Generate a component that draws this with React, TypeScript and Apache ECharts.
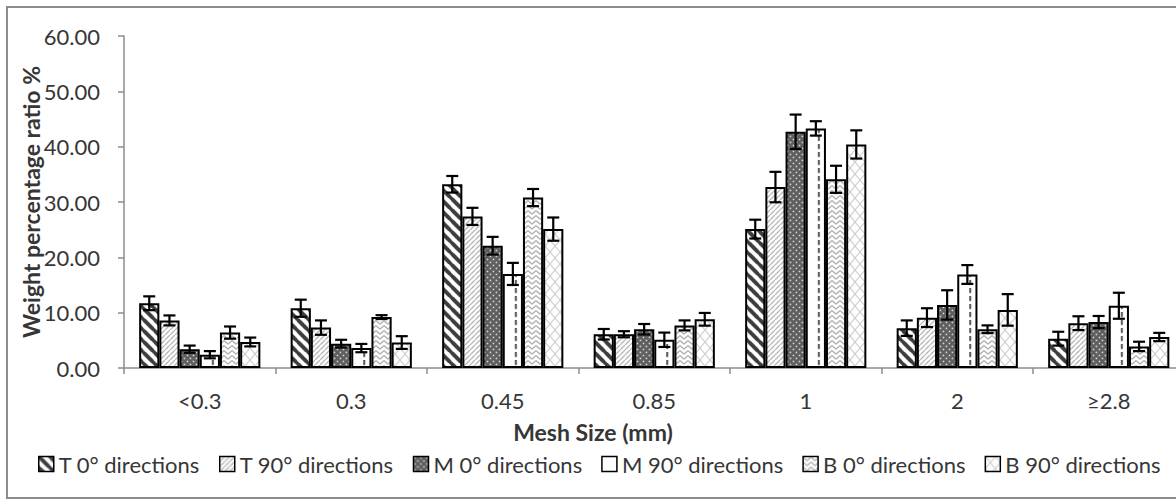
import React, { useEffect, useRef } from "react";
import * as echarts from "echarts";

// ---- data ----
const categories = ["<0.3", "0.3", "0.45", "0.85", "1", "2", "≥2.8"];
const seriesNames = [
  "T 0° directions",
  "T 90° directions",
  "M 0° directions",
  "M 90° directions",
  "B 0° directions",
  "B 90° directions",
];
const t0Values = [11.7, 10.8, 33.2, 6.1, 25.1, 7.2, 5.3];
const t0Errors = [1.25, 1.55, 1.5, 0.95, 1.7, 1.4, 1.25];
const t90Values = [8.6, 7.3, 27.4, 6.1, 32.7, 9.1, 8.1];
const t90Errors = [0.9, 1.3, 1.55, 0.55, 2.75, 1.7, 1.25];
const m0Values = [3.4, 4.4, 22.1, 7.0, 42.7, 11.4, 8.3];
const m0Errors = [0.65, 0.7, 1.6, 0.95, 3.1, 2.65, 1.1];
const m90Values = [2.4, 3.6, 17.0, 5.1, 43.3, 16.9, 11.25];
const m90Errors = [0.65, 0.75, 2.0, 1.3, 1.3, 1.7, 2.35];
const b0Values = [6.4, 9.2, 30.8, 7.7, 34.1, 7.0, 3.9];
const b0Errors = [1.1, 0.35, 1.55, 0.9, 2.45, 0.7, 0.85];
const b90Values = [4.7, 4.6, 25.1, 8.8, 40.4, 10.5, 5.6];
const b90Errors = [0.8, 1.15, 2.1, 1.15, 2.55, 2.85, 0.75];
const yMin = 0;
const yMax = 60;
const yInterval = 10;
const yAxisTitle = "Weight percentage ratio %";
const xAxisTitle = "Mesh Size (mm)";

const allValues = [t0Values, t90Values, m0Values, m90Values, b0Values, b90Values];
const allErrors = [t0Errors, t90Errors, m0Errors, m90Errors, b0Errors, b90Errors];

// ---- layout ----
const CHART_W = 1196;
const CHART_H = 501;
const GRID_LEFT = 124;
const GRID_TOP = 36;
const CAT_W = 151.5;
const GRID_W = CAT_W * categories.length;
const GRID_H = 332;
const FONT = "Lato, 'Open Sans', sans-serif";
const TEXT = "#363636";
const AXIS = "#8c8c8c";

function makeTile(
  w: number,
  h: number,
  bg: string,
  draw: (ctx: CanvasRenderingContext2D) => void
) {
  const s = 3;
  const c = document.createElement("canvas");
  c.width = Math.round(w * s);
  c.height = Math.round(h * s);
  const ctx = c.getContext("2d") as CanvasRenderingContext2D;
  ctx.scale(c.width / w, c.height / h);
  ctx.fillStyle = bg;
  ctx.fillRect(0, 0, w, h);
  draw(ctx);
  return { image: c, repeat: "repeat", imageWidth: w, imageHeight: h };
}

function buildPatterns() {
  // T 0°: wide dark downward diagonal
  const p0 = makeTile(11, 11, "#ffffff", (ctx) => {
    ctx.strokeStyle = "#3c3c3c";
    ctx.lineWidth = 3.8;
    for (const k of [-11, 0, 11]) {
      ctx.beginPath();
      ctx.moveTo(k - 2, -2);
      ctx.lineTo(k + 13, 13);
      ctx.stroke();
    }
  });
  // T 90°: light upward diagonal
  const p1 = makeTile(5, 5, "#ffffff", (ctx) => {
    ctx.strokeStyle = "#ababab";
    ctx.lineWidth = 1.1;
    for (const k of [-5, 0, 5]) {
      ctx.beginPath();
      ctx.moveTo(k - 1, 6);
      ctx.lineTo(k + 6, -1);
      ctx.stroke();
    }
  });
  // M 0°: dark with white dots
  const p2 = makeTile(6, 6, "#5e5e5e", (ctx) => {
    ctx.fillStyle = "#e8e8e8";
    ctx.fillRect(0.7, 0.7, 1.5, 1.5);
    ctx.fillRect(3.7, 3.7, 1.5, 1.5);
  });
  // M 90°: dashed vertical line in each bar
  const m90Center =
    (GRID_LEFT + CAT_W * 0.1 + 3.5 * ((CAT_W * 0.8) / 6) + 3) % CAT_W;
  const p3 = makeTile(CAT_W * 2, 8, "#ffffff", (ctx) => {
    ctx.fillStyle = "#555555";
    ctx.fillRect(m90Center - 1, 0, 2, 5);
    ctx.fillRect(m90Center + CAT_W - 1, 0, 2, 5);
  });
  // B 0°: zigzag
  const p4 = makeTile(8, 5, "#ffffff", (ctx) => {
    ctx.strokeStyle = "#a0a0a0";
    ctx.lineWidth = 1.1;
    for (const k of [-5, 0, 5]) {
      ctx.beginPath();
      ctx.moveTo(-1, k + 0);
      ctx.lineTo(4, k + 4);
      ctx.lineTo(9, k + 0);
      ctx.stroke();
    }
  });
  // B 90°: diamond lattice
  const p5 = makeTile(10, 12, "#ffffff", (ctx) => {
    ctx.strokeStyle = "#c6c6c6";
    ctx.lineWidth = 1;
    ctx.beginPath();
    ctx.moveTo(-1, -1.2);
    ctx.lineTo(11, 13.2);
    ctx.moveTo(11, -1.2);
    ctx.lineTo(-1, 13.2);
    ctx.stroke();
  });
  return [p0, p1, p2, p3, p4, p5];
}

export default function App() {
  const ref = useRef<HTMLDivElement>(null);

  useEffect(() => {
    if (!ref.current) return;
    const chart = echarts.init(ref.current, undefined, { renderer: "svg" });
    const patterns = buildPatterns();
    const nSeries = seriesNames.length;

    const barSeries = seriesNames.map((name, idx) => ({
      type: "bar",
      name,
      data: allValues[idx],
      barGap: "0%",
      barCategoryGap: "20%",
      itemStyle: {
        color: patterns[idx],
        borderColor: "#000000",
        borderWidth: 2,
      },
      emphasis: { disabled: true },
      z: 2,
    }));

    const errSeries = seriesNames.map((name, idx) => ({
      type: "custom",
      name: "err-" + idx,
      z: 5,
      silent: true,
      encode: { x: 0, y: 1 },
      data: allValues[idx].map((v, i) => [i, v, allErrors[idx][i]]),
      renderItem: (params: any, api: any) => {
        const ci = api.value(0);
        const v = api.value(1);
        const e = api.value(2);
        const c = api.coord([ci, v]);
        const band = api.size([1, 0])[0];
        const bw = (band * 0.8) / nSeries;
        const x = c[0] + (idx - (nSeries - 1) / 2) * bw;
        const yTop = api.coord([ci, v + e])[1];
        const yBot = api.coord([ci, v - e])[1];
        const cap = 6;
        const st = { stroke: "#000000", lineWidth: 2.2 };
        return {
          type: "group",
          children: [
            { type: "line", shape: { x1: x, y1: yTop, x2: x, y2: yBot }, style: st },
            { type: "line", shape: { x1: x - cap, y1: yTop, x2: x + cap, y2: yTop }, style: st },
            { type: "line", shape: { x1: x - cap, y1: yBot, x2: x + cap, y2: yBot }, style: st },
          ],
        };
      },
    }));

    const option: any = {
      animation: false,
      backgroundColor: "#ffffff",
      textStyle: { fontFamily: FONT, color: TEXT },
      grid: {
        left: GRID_LEFT,
        top: GRID_TOP,
        width: GRID_W,
        height: GRID_H,
        containLabel: false,
        outerBoundsMode: "none",
      },
      legend: {
        data: seriesNames,
        left: 33,
        top: 448,
        icon: "rect",
        itemWidth: 15,
        itemHeight: 15,
        itemGap: 19,
        selectedMode: false,
        itemStyle: { borderColor: "#000000", borderWidth: 1.5 },
        textStyle: { fontFamily: FONT, fontSize: 22, color: TEXT },
      },
      xAxis: {
        type: "category",
        data: categories,
        axisLine: { show: true, lineStyle: { color: AXIS, width: 1.5 } },
        axisTick: { show: true, length: 6, lineStyle: { color: AXIS, width: 1.5 } },
        axisLabel: { margin: 21, fontSize: 22, color: TEXT, fontFamily: FONT },
        splitLine: { show: false },
      },
      yAxis: {
        type: "value",
        min: yMin,
        max: yMax,
        interval: yInterval,
        name: yAxisTitle,
        nameLocation: "middle",
        nameGap: 82,
        nameMoveOverlap: false,
        nameRotate: 90,
        nameTextStyle: { fontSize: 23, fontWeight: "bold", color: TEXT, fontFamily: FONT },
        axisLine: { show: true, lineStyle: { color: AXIS, width: 1.5 } },
        axisTick: { show: true, length: 6, lineStyle: { color: AXIS, width: 1.5 } },
        axisLabel: {
          margin: 24,
          fontSize: 22,
          color: TEXT,
          fontFamily: FONT,
          formatter: (v: number) => v.toFixed(2),
        },
        splitLine: { show: false },
      },
      graphic: [
        {
          type: "rect",
          silent: true,
          z: -1,
          shape: { x: 7, y: 7, width: CHART_W - 14, height: 491 },
          style: { fill: "none", stroke: "#8c8c8c", lineWidth: 2 },
        },
        {
          type: "text",
          silent: true,
          x: 593,
          y: 432,
          style: {
            text: xAxisTitle,
            align: "center",
            verticalAlign: "middle",
            fontSize: 23,
            fontWeight: "bold",
            fontFamily: FONT,
            fill: TEXT,
          },
        },
      ],
      series: [...barSeries, ...errSeries],
    };

    chart.setOption(option);
    return () => {
      chart.dispose();
    };
  }, []);

  return (
    <div
      style={{
        position: "absolute",
        left: 0,
        top: 0,
        width: 1176,
        height: CHART_H,
        overflow: "hidden",
        background: "#ffffff",
      }}
    >
      <div ref={ref} style={{ width: CHART_W, height: CHART_H }} />
    </div>
  );
}
